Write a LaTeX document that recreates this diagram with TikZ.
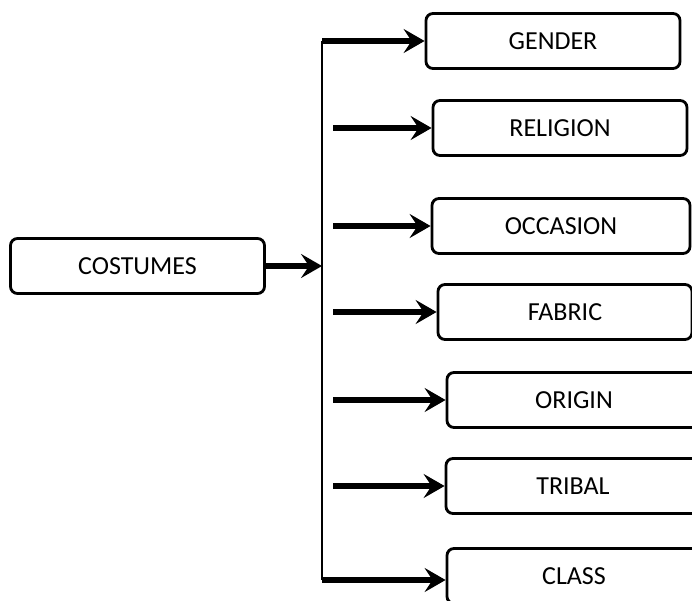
\documentclass[tikz,border=0pt]{standalone}
\usepackage{fontspec}
\setmainfont{Carlito}
\usepackage{tikz}
\usetikzlibrary{arrows.meta}
\tikzset{
	box/.style={draw, line width=2.8pt, rounded corners=7pt, minimum width=254pt, minimum height=55pt, inner sep=0pt, font=\fontsize{26}{30}\selectfont},
	arr/.style={line width=6pt, -{Stealth[length=21pt,width=24pt,inset=8pt]}},
}

\begin{document}
\begin{tikzpicture}[x=1pt,y=-1pt]
	\useasboundingbox (0,0) rectangle (692,601);
	\clip (0,0) rectangle (692,601);
	\node[box] (costumes) at (137.5,266) {COSTUMES};
	\node[box] (gender) at (553,41) {GENDER};
	\node[box] (religion) at (560,128) {RELIGION};
	\node[box,minimum width=258pt] (occasion) at (561,226) {OCCASION};
	\node[box] (fabric) at (565,312) {FABRIC};
	\node[box] (origin) at (574,400) {ORIGIN};
	\node[box] (tribal) at (573,486) {TRIBAL};
	\node[box] (class) at (574,576) {CLASS};
	%
	\coordinate (top) at (322,41);
	\coordinate (bot) at (322,580);
	\draw [line width=2.8pt] (top) -- (bot);
	\draw [arr] (costumes) -- (costumes -| top);
	\draw [arr] (top) -- (gender);
	\foreach \n in {religion,occasion,fabric,origin,tribal}
		\draw [arr] ([xshift=11pt]top |- \n) -- (\n);
	\draw [arr] (bot) -- (bot -| class.west);
\end{tikzpicture}
\end{document}
